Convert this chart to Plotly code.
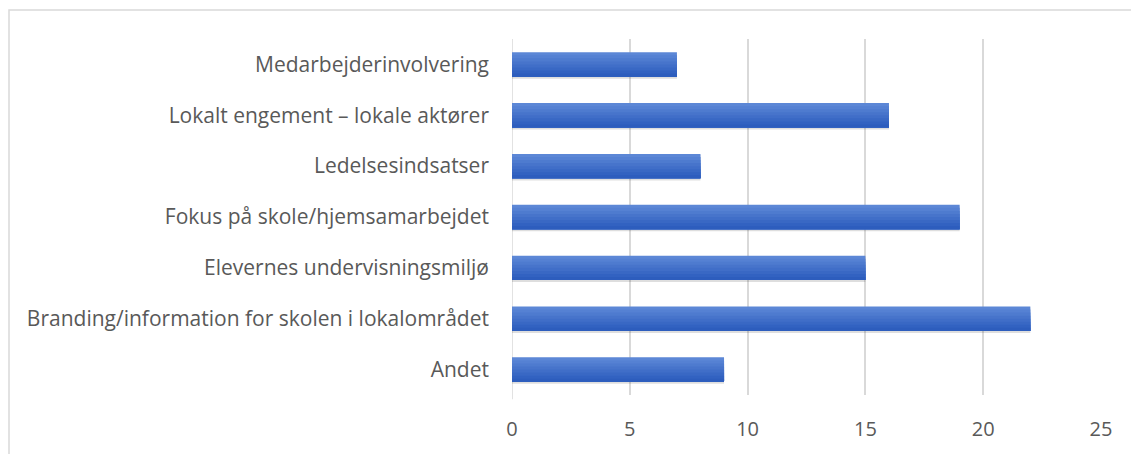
import plotly.graph_objects as go

categories = [
    "Andet",
    "Branding/information for skolen i lokalområdet",
    "Elevernes undervisningsmiljø",
    "Fokus på skole/hjemsamarbejdet",
    "Ledelsesindsatser",
    "Lokalt engement – lokale aktører",
    "Medarbejderinvolvering",
]
values = [9, 22, 15, 19, 8, 16, 7]
x_ticks = [0, 5, 10, 15, 20, 25]

band_colors = ["#5c87d6", "#5581d3", "#4e7bcf", "#4774cb", "#406ec8", "#3968c4", "#3262c1", "#2d5dbd"]

fig = go.Figure()

# soft shadow
fig.add_trace(go.Bar(
    y=categories, x=values, orientation="h",
    width=0.5, offset=-0.28,
    marker=dict(color="rgba(0,0,0,0.13)", line=dict(width=0)),
    hoverinfo="skip", showlegend=False,
))

total = 0.48
n = len(band_colors)
bw = total / n
for k, c in enumerate(band_colors):
    top = total / 2 - bw * k
    fig.add_trace(go.Bar(
        y=categories, x=values, orientation="h",
        width=top + total / 2, offset=-total / 2,
        marker=dict(color=c, line=dict(width=0)),
        showlegend=False,
    ))

L, R, T, B = 512, 30, 38.5, 53
W, H = 1131, 454
pw = W - L - R
ph = H - T - B

fig.update_layout(
    width=W, height=H,
    barmode="overlay",
    margin=dict(l=L, r=R, t=T, b=B, pad=0),
    paper_bgcolor="white", plot_bgcolor="white",
    font=dict(family="Open Sans, Liberation Sans, sans-serif", size=21, color="#595959"),
    showlegend=False,
    xaxis=dict(
        range=[0, 25], tickvals=x_ticks, ticktext=[str(v) for v in x_ticks],
        tickfont=dict(size=20),
        showgrid=True, gridcolor="#d9d9d9", gridwidth=1.5,
        zeroline=False, showline=False, ticks="",
        ticklabelstandoff=20, fixedrange=True,
    ),
    yaxis=dict(
        categoryorder="array", categoryarray=categories,
        showgrid=False, zeroline=False,
        showline=False, ticks="", ticklabelstandoff=22,
        range=[-0.5, len(categories) - 0.5],
    ),
    shapes=[
        dict(type="rect", xref="paper", yref="paper",
             x0=(9 - L) / pw, x1=(W + 20 - L) / pw,
             y0=-(H + 20 - (T + ph)) / ph, y1=1 + (T - 9) / ph,
             line=dict(color="#d9d9d9", width=1.5), fillcolor="rgba(0,0,0,0)", layer="below"),
        dict(type="line", xref="x", yref="paper", x0=0, x1=0, y0=-0.012, y1=1,
             line=dict(color="#d9d9d9", width=1.5), layer="below"),
    ],
)

fig.write_html("out.html", config={"displayModeBar": False},
               post_script="document.body.style.margin='0';")
